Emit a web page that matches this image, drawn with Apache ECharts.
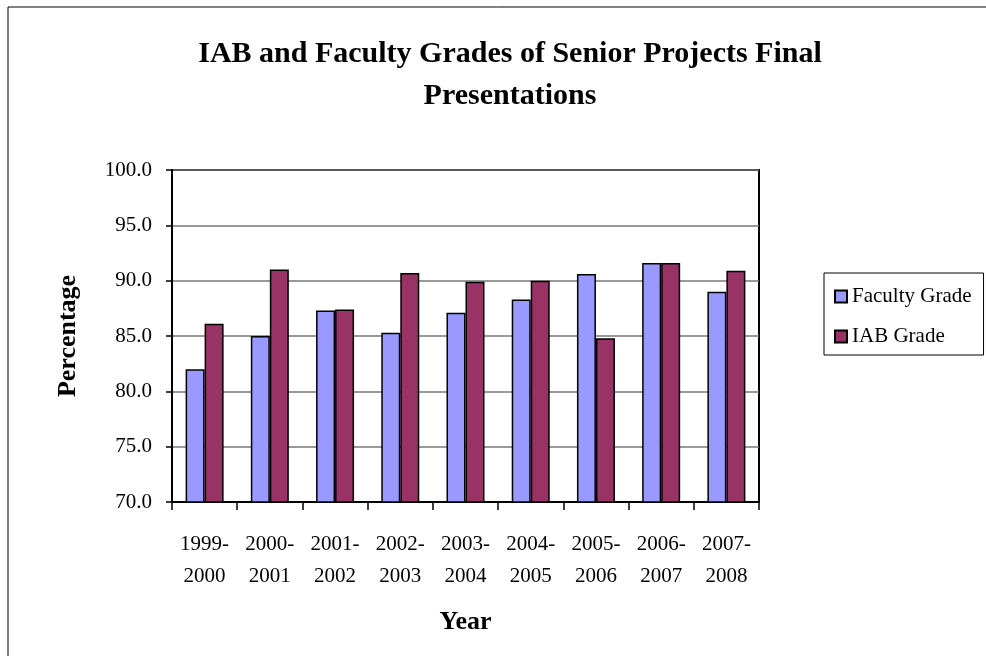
<!DOCTYPE html>
<html>
<head>
<meta charset="utf-8">
<script src="https://cdn.jsdelivr.net/npm/echarts@6/dist/echarts.min.js"></script>
<style>
  html, body { margin: 0; padding: 0; background: #fff; }
  #chart { width: 986px; height: 656px; }
</style>
</head>
<body>
<div id="chart"></div>
<script>
  // data
  var years = ['1999-\n2000', '2000-\n2001', '2001-\n2002', '2002-\n2003', '2003-\n2004',
               '2004-\n2005', '2005-\n2006', '2006-\n2007', '2007-\n2008'];
  var facultyGrade = [82.0, 85.0, 87.3, 85.3, 87.1, 88.3, 90.6, 91.6, 89.0];
  var iabGrade = [86.1, 91.0, 87.4, 90.7, 89.9, 90.0, 84.8, 91.6, 90.9];
  var yTicks = [70, 75, 80, 85, 90, 95, 100];

  var serif = '"Liberation Serif", "DejaVu Serif", serif';

  var chart = echarts.init(document.getElementById('chart'));
  chart.setOption({
    backgroundColor: '#fff',
    animation: false,
    textStyle: { fontFamily: serif, color: '#000' },
    graphic: [{
      // outer chart frame
      type: 'rect',
      shape: { x: 8, y: 7, width: 1000, height: 700 },
      style: { fill: 'none', stroke: '#000', lineWidth: 1 },
      silent: true
    }],
    title: {
      text: 'IAB and Faculty Grades of Senior Projects Final\nPresentations',
      left: 505,
      textAlign: 'center',
      top: 28,
      textStyle: {
        fontFamily: serif,
        fontWeight: 'bold',
        fontSize: 30,
        lineHeight: 42,
        color: '#000'
      }
    },
    legend: {
      data: ['Faculty Grade', 'IAB Grade'],
      orient: 'vertical',
      left: 824,
      top: 273,
      padding: [13, 12, 8, 10],
      itemGap: 19,
      itemWidth: 12,
      itemHeight: 12,
      icon: 'rect',
      borderColor: '#000',
      borderWidth: 1,
      textStyle: { fontFamily: serif, fontSize: 21, color: '#000' }
    },
    grid: {
      left: 172,
      right: 227,
      top: 170,
      bottom: 154,
      show: true,
      borderColor: '#000',
      borderWidth: 2,
      containLabel: false
    },
    xAxis: {
      type: 'category',
      data: years,
      name: 'Year',
      nameLocation: 'middle',
      nameGap: 107,
      nameTextStyle: { fontFamily: serif, fontWeight: 'bold', fontSize: 26, color: '#000' },
      axisLine: { lineStyle: { color: '#000', width: 2 } },
      axisTick: { show: true, length: 8, inside: false, lineStyle: { color: '#000', width: 1.5 } },
      axisLabel: {
        interval: 0,
        margin: 26,
        fontFamily: serif,
        fontSize: 21,
        lineHeight: 32,
        color: '#000'
      }
    },
    yAxis: {
      type: 'value',
      min: yTicks[0],
      max: yTicks[yTicks.length - 1],
      interval: 5,
      name: 'Percentage',
      nameLocation: 'middle',
      nameGap: 91,
      nameRotate: 90,
      nameTextStyle: { fontFamily: serif, fontWeight: 'bold', fontSize: 26, color: '#000' },
      axisLine: { show: true, lineStyle: { color: '#000', width: 2 } },
      axisTick: { show: true, length: 6, lineStyle: { color: '#000', width: 1.5 } },
      splitLine: { show: true, lineStyle: { color: '#777', width: 1.5 } },
      axisLabel: {
        margin: 20,
        fontFamily: serif,
        fontSize: 21,
        color: '#000',
        formatter: function (v) { return v.toFixed(1); }
      }
    },
    series: [{
      name: 'Faculty Grade',
      type: 'bar',
      data: facultyGrade,
      barWidth: 19,
      barGap: '0%',
      itemStyle: { color: '#9999FF', borderColor: '#000', borderWidth: 1.5 }
    }, {
      name: 'IAB Grade',
      type: 'bar',
      data: iabGrade,
      barWidth: 19,
      barGap: '0%',
      itemStyle: { color: '#993366', borderColor: '#000', borderWidth: 1.5 }
    }]
  });
</script>
</body>
</html>
